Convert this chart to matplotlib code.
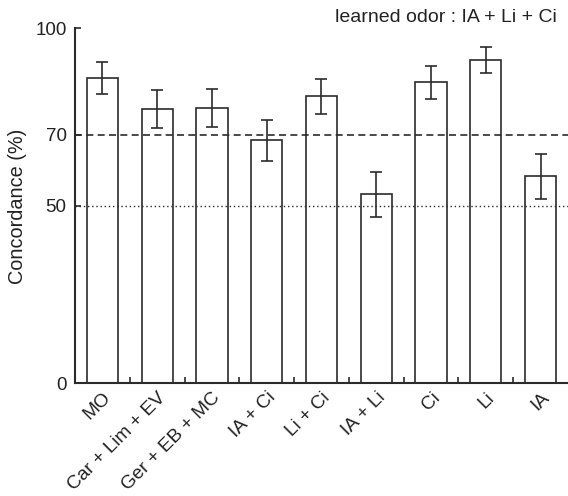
import matplotlib
matplotlib.use("Agg")
import matplotlib.pyplot as plt
import numpy as np

plt.rcParams["font.family"] = ["Liberation Sans", "DejaVu Sans"]

# Odor categories and concordance values
odors = ["MO", "Car + Lim + EV", "Ger + EB + MC", "IA + Ci", "Li + Ci",
         "IA + Li", "Ci", "Li", "IA"]
concordance = [86.0, 77.3, 77.6, 68.4, 80.8, 53.2, 84.8, 91.0, 58.3]
sem = [4.4, 5.4, 5.3, 5.9, 5.0, 6.4, 4.6, 3.7, 6.4]
yticks = [0, 50, 70, 100]

ink = "#2b2b2b"

fig = plt.figure(figsize=(5.68, 4.96), dpi=100)
ax = fig.add_axes([0.132, 0.227, 0.868, 0.716])

x = np.arange(len(odors))
ax.bar(x, concordance, width=0.57, color="none", edgecolor=ink,
       linewidth=1.2, zorder=3)
ax.errorbar(x, concordance, yerr=sem, fmt="none", ecolor=ink,
            elinewidth=1.2, capsize=4, capthick=1.2, zorder=4)

ax.axhline(70, color=ink, linestyle=(0, (4.2, 2.6)), linewidth=1.2, zorder=2)
ax.axhline(50, color=ink, linestyle=(0, (1, 2)), linewidth=1.0, zorder=2)

ax.set_xlim(-0.5, len(odors) - 0.5)
ax.set_ylim(0, 100)
ax.set_yticks(yticks)
ax.set_yticklabels([str(v) for v in yticks])
ax.set_xticks(x[:-1] + 0.5)
ax.set_xticklabels([])
ax.set_xticks(x, minor=True)
ax.set_xticklabels(odors, minor=True, rotation=45, ha="right",
                   rotation_mode="anchor", fontsize=13.8, color="#222222")
ax.tick_params(axis="x", which="minor", length=0, pad=4)
ax.tick_params(axis="x", which="major", direction="in", length=4,
               width=1.2, color=ink)
ax.tick_params(axis="y", direction="in", length=4, width=1.2, color=ink,
               labelsize=13.5, pad=6, labelcolor="#222222")

for side in ["top", "right"]:
    ax.spines[side].set_visible(False)
for side in ["left", "bottom"]:
    ax.spines[side].set_color(ink)
    ax.spines[side].set_linewidth(1.5)

ax.set_ylabel("Concordance (%)", fontsize=14.3, color="#222222")
ax.yaxis.set_label_coords(-0.097, 0.5)
fig.text(0.981, 0.965, "learned odor : IA + Li + Ci", ha="right",
         va="center", fontsize=14, color="#222222")

fig.savefig("out.png", dpi=100)
